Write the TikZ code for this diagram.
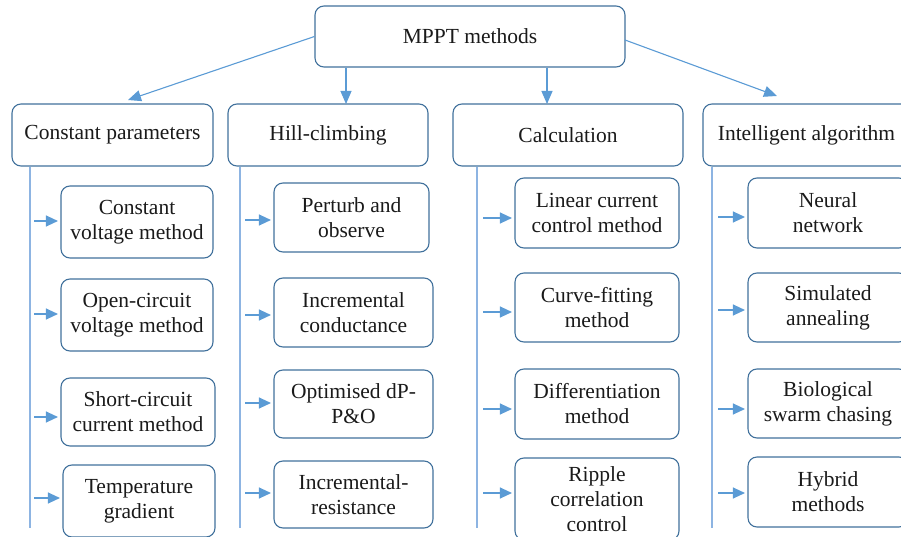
\documentclass[tikz,border=0pt]{standalone}
\usepackage{fontspec}
\setmainfont{Liberation Serif}
\usetikzlibrary{arrows.meta}
\definecolor{boxc}{HTML}{41719C}
\definecolor{arrc}{HTML}{5B9BD5}
\definecolor{linec}{HTML}{8DB4E2}
\definecolor{txt}{HTML}{1A1A1A}
\begin{document}
\begin{tikzpicture}[x=1pt,y=-1pt,
  bx/.style={draw=boxc, line width=1.1pt, rounded corners=9pt, fill=white, align=center,
    font=\fontsize{21.5}{25}\selectfont, inner sep=0pt, text=txt},
  arr/.style={draw=arrc, line width=1.1pt, -{Triangle[length=12pt,width=11pt]}},
  bigarr/.style={draw=arrc, line width=1.1pt, -{Triangle[length=13pt,width=11pt]}},
  vline/.style={draw=linec, line width=1.4pt}]
\clip (0,0) rectangle (901,537);
\useasboundingbox (0,0) rectangle (901,537);

% top
\node[bx, minimum width=310pt, minimum height=61pt] (m) at (470,36.5) {MPPT methods};

% categories
\node[bx, minimum width=201pt, minimum height=62pt] (c1) at (112.5,135) {Constant parameters};
\node[bx, minimum width=200pt, minimum height=62pt] (c2) at (328,135) {Hill-climbing};
\node[bx, minimum width=230pt, minimum height=62pt] (c3) at (568,135) {Calculation};
\node[bx, minimum width=207pt, minimum height=62pt] (c4) at (806.5,135) {Intelligent algorithm};

% top arrows
\coordinate (t1) at (128,100);
\coordinate (t2) at (346,104);
\coordinate (t3) at (547,104);
\coordinate (t4) at (777,96);
\coordinate (s4) at (625,40);
\draw[bigarr] (m.west) -- (t1);
\draw[bigarr] (t2 |- m.south) -- (t2);
\draw[bigarr] (t3 |- m.south) -- (t3);
\draw[bigarr] (s4) -- (t4);

% vertical lines
\coordinate (v1) at (30,528);
\coordinate (v2) at (240,528);
\coordinate (v3) at (477,528);
\coordinate (v4) at (712,528);
\draw[vline] (v1 |- c1.south) -- (v1);
\draw[vline] (v2 |- c2.south) -- (v2);
\draw[vline] (v3 |- c3.south) -- (v3);
\draw[vline] (v4 |- c4.south) -- (v4);

% column 1
\node[bx, minimum width=152pt, minimum height=72pt] (a1) at (137,222) {Constant\\voltage method};
\node[bx, minimum width=152pt, minimum height=72pt] (a2) at (137,315) {Open-circuit\\voltage method};
\node[bx, minimum width=154pt, minimum height=68pt] (a3) at (138,412) {Short-circuit\\current method};
\node[bx, minimum width=152pt, minimum height=72pt] (a4) at (139,501) {Temperature\\gradient};

% column 2
\node[bx, minimum width=155pt, minimum height=69pt] (b1) at (351.5,217.5) {Perturb and\\observe};
\node[bx, minimum width=159pt, minimum height=69pt] (b2) at (353.5,312.5) {Incremental\\conductance};
\node[bx, minimum width=159pt, minimum height=68pt] (b3) at (353.5,404) {Optimised dP-\\P\&O};
\node[bx, minimum width=159pt, minimum height=67pt] (b4) at (353.5,494.5) {Incremental-\\resistance};

% column 3
\node[bx, minimum width=164pt, minimum height=70pt] (d1) at (597,213) {Linear current\\control method};
\node[bx, minimum width=164pt, minimum height=69pt] (d2) at (597,307.5) {Curve-fitting\\method};
\node[bx, minimum width=164pt, minimum height=70pt] (d3) at (597,404) {Differentiation\\method};
\node[bx, minimum width=164pt, minimum height=82pt] (d4) at (597,499) {Ripple\\correlation\\control};

% column 4
\node[bx, minimum width=160pt, minimum height=70pt] (e1) at (828,213) {Neural\\network};
\node[bx, minimum width=160pt, minimum height=69pt] (e2) at (828,307.5) {Simulated\\annealing};
\node[bx, minimum width=160pt, minimum height=69pt] (e3) at (828,403.5) {Biological\\swarm chasing};
\node[bx, minimum width=160pt, minimum height=70pt] (e4) at (828,492) {Hybrid\\methods};

% small arrows
\foreach \n/\x/\y in {a1/34/221, a2/34/314, a3/34/417, a4/34/498,
                      b1/245/220, b2/245/315, b3/245/403, b4/245/493,
                      d1/483/218, d2/483/312, d3/483/409, d4/483/493,
                      e1/718/217, e2/718/310, e3/718/409, e4/718/493}{
  \coordinate (p\n) at (\x,\y);
  \draw[arr] (p\n) -- ([xshift=-2.5pt]p\n -| \n.west);
}
\end{tikzpicture}
\end{document}
